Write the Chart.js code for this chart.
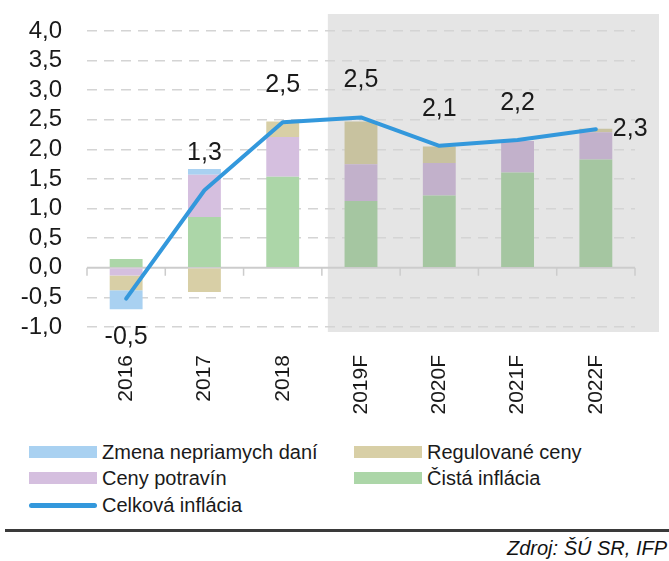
<!DOCTYPE html>
<html>
<head>
<meta charset="utf-8">
<script src="https://cdn.jsdelivr.net/npm/chart.js@4.4.0/dist/chart.umd.min.js"></script>
<style>
  body { margin: 0; background: #fff; font-family: "Liberation Sans", Arial, sans-serif; }
  #wrap { position: relative; width: 669px; height: 561px; overflow: hidden; }
  #chartBox { position: absolute; left: 0; top: 0; width: 669px; height: 435px; }
  .legText { position: absolute; font-size: 20px; line-height: 24px; color: #1a1a1a; white-space: nowrap; }
  .legBox { position: absolute; }
  #rule { position: absolute; left: 5px; top: 529px; width: 664px; height: 3px; background: #3a3a3a; }
  #source { position: absolute; right: 2px; top: 537px; font-size: 20px; font-style: italic; color: #111; white-space: nowrap; }
</style>
</head>
<body>
<div id="wrap">
  <div id="chartBox"><canvas id="myChart" width="669" height="435"></canvas></div>
  <div id="legend"></div>
  <div id="rule"></div>
  <div id="source">Zdroj: ŠÚ SR, IFP</div>
</div>
<script>
// data
const categories = ['2016', '2017', '2018', '2019F', '2020F', '2021F', '2022F'];
const cistaInflacia = [0.15, 0.86, 1.54, 1.13, 1.22, 1.61, 1.83];
const cenyPotravin = [-0.13, 0.71, 0.67, 0.62, 0.55, 0.53, 0.46];
const regulovaneCeny = [-0.25, -0.41, 0.26, 0.72, 0.28, 0.00, 0.06];
const zmenaDani = [-0.32, 0.10, 0.00, 0.00, 0.00, 0.00, 0.00];
const celkovaInflacia = [-0.52, 1.31, 2.46, 2.54, 2.06, 2.16, 2.34];
const yMin = -1;
const yMax = 4;
const yStep = 0.5;

const forecastFrom = categories.findIndex(c => c.endsWith('F'));
const textColor = '#1a1a1a';
const fontFamily = '"Liberation Sans", Arial, sans-serif';

function fmt(v) {
    return v.toFixed(1).replace('.', ',');
}

function barColor(plain, shaded) {
    return function (ctx) {
        return ctx.dataIndex >= forecastFrom ? shaded : plain;
    };
}

const forecastPlugin = {
    id: 'forecast',
    beforeDraw(chart) {
        const {ctx, chartArea, scales: {x}} = chart;
        const half = (x.getPixelForValue(1) - x.getPixelForValue(0)) / 2;
        const left = x.getPixelForValue(forecastFrom) - half + 6;
        ctx.save();
        ctx.fillStyle = '#e5e5e5';
        ctx.fillRect(left, chartArea.top - 17, chartArea.right + 24 - left, chartArea.bottom - chartArea.top + 22);
        ctx.restore();
    },
    beforeDatasetsDraw(chart) {
        // solid zero line with small ticks between categories
        const {ctx, chartArea, scales: {x, y}} = chart;
        const y0 = y.getPixelForValue(0);
        const half = (x.getPixelForValue(1) - x.getPixelForValue(0)) / 2;
        ctx.save();
        ctx.strokeStyle = '#cccccc';
        ctx.lineWidth = 2;
        ctx.beginPath();
        ctx.moveTo(chartArea.left, y0);
        ctx.lineTo(chartArea.right, y0);
        ctx.stroke();
        ctx.lineWidth = 1.5;
        ctx.beginPath();
        for (let i = 0; i <= categories.length; i++) {
            const px = x.getPixelForValue(0) - half + i * half * 2;
            ctx.moveTo(px, y0);
            ctx.lineTo(px, y0 + 8);
        }
        ctx.stroke();
        ctx.restore();
    },
    afterDatasetsDraw(chart, args, opts) {
        const {ctx} = chart;
        const meta = chart.getDatasetMeta(chart.data.datasets.length - 1);
        ctx.save();
        ctx.font = '25px ' + fontFamily;
        ctx.fillStyle = textColor;
        ctx.textBaseline = 'middle';
        meta.data.forEach(function (pt, i) {
            const text = fmt(celkovaInflacia[i]);
            const place = opts.place[i];
            if (place === 'right') {
                ctx.textAlign = 'left';
                ctx.fillText(text, pt.x + 17, pt.y);
            } else if (place === 'below') {
                ctx.textAlign = 'center';
                ctx.fillText(text, pt.x, pt.y + 39);
            } else {
                ctx.textAlign = 'center';
                ctx.fillText(text, pt.x, pt.y - 37);
            }
        });
        ctx.restore();
    }
};

const barCommon = {
    barPercentage: 0.42,
    categoryPercentage: 1,
    borderWidth: 0,
    stack: 'bars',
    order: 1
};

const datasets = [
    Object.assign({label: 'Čistá inflácia', data: cistaInflacia, plain: '#acd6a8',
        backgroundColor: barColor('#acd6a8', '#a5c6a1')}, barCommon),
    Object.assign({label: 'Ceny potravín', data: cenyPotravin, plain: '#d5bfdf',
        backgroundColor: barColor('#d5bfdf', '#c2b1cb')}, barCommon),
    Object.assign({label: 'Regulované ceny', data: regulovaneCeny, plain: '#d8cfa6',
        backgroundColor: barColor('#d8cfa6', '#c8c29f')}, barCommon),
    Object.assign({label: 'Zmena nepriamych daní', data: zmenaDani, plain: '#a9d1f1',
        backgroundColor: barColor('#a9d1f1', '#a0c4e0')}, barCommon),
    {
        type: 'line',
        label: 'Celková inflácia',
        data: celkovaInflacia,
        borderColor: '#3398dc',
        borderWidth: 4,
        borderCapStyle: 'round',
        borderJoinStyle: 'round',
        pointRadius: 0,
        tension: 0,
        fill: false,
        stack: 'line',
        order: 0
    }
];

const ctx = document.getElementById('myChart').getContext('2d');
const myChart = new Chart(ctx, {
    type: 'bar',
    data: {labels: categories, datasets: datasets},
    options: {
        responsive: false,
        animation: false,
        devicePixelRatio: 1,
        layout: {padding: {top: 31, right: 34, left: 0, bottom: 0}},
        plugins: {
            legend: {display: false},
            tooltip: {enabled: false},
            forecast: {place: ['below', 'above', 'above', 'above', 'above', 'above', 'right']}
        },
        scales: {
            x: {
                stacked: true,
                grid: {display: false},
                border: {display: false},
                ticks: {
                    autoSkip: false,
                    minRotation: 90,
                    maxRotation: 90,
                    padding: 20,
                    color: textColor,
                    font: {family: fontFamily, size: 21}
                },
                afterFit: function (scale) {
                    scale.height = 108;
                    scale.paddingLeft = 0;
                    scale.paddingRight = 0;
                }
            },
            y: {
                stacked: true,
                min: yMin,
                max: yMax,
                ticks: {
                    autoSkip: false,
                    stepSize: yStep,
                    padding: 25,
                    color: textColor,
                    font: {family: fontFamily, size: 24},
                    callback: function (v) { return fmt(v); }
                },
                grid: {
                    drawTicks: false,
                    lineWidth: 1.5,
                    color: function (c) { return c.tick && c.tick.value === 0 ? 'rgba(0,0,0,0)' : '#d4d4d4'; }
                },
                border: {display: false, dash: [10, 7]},
                afterFit: function (scale) {
                    scale.width = 87;
                    scale.paddingTop = 0;
                    scale.paddingBottom = 0;
                }
            }
        }
    },
    plugins: [forecastPlugin]
});

// legend laid out in two columns like the original
const legendSlots = {
    'Zmena nepriamych daní': [29, 452],
    'Regulované ceny': [354, 452],
    'Ceny potravín': [29, 478],
    'Čistá inflácia': [354, 478],
    'Celková inflácia': [29, 505]
};
const legend = document.getElementById('legend');
myChart.data.datasets.forEach(function (ds) {
    const slot = legendSlots[ds.label];
    const box = document.createElement('div');
    box.className = 'legBox';
    box.style.left = slot[0] + 'px';
    box.style.width = '68px';
    if (ds.type === 'line') {
        box.style.top = (slot[1] - 2.5) + 'px';
        box.style.height = '5px';
        box.style.borderRadius = '3px';
        box.style.background = ds.borderColor;
    } else {
        box.style.top = (slot[1] - 6) + 'px';
        box.style.height = '12px';
        box.style.background = ds.plain;
    }
    legend.appendChild(box);
    const txt = document.createElement('div');
    txt.className = 'legText';
    txt.style.left = (slot[0] + 73) + 'px';
    txt.style.top = (slot[1] - 12) + 'px';
    txt.textContent = ds.label;
    legend.appendChild(txt);
});
</script>
</body>
</html>
